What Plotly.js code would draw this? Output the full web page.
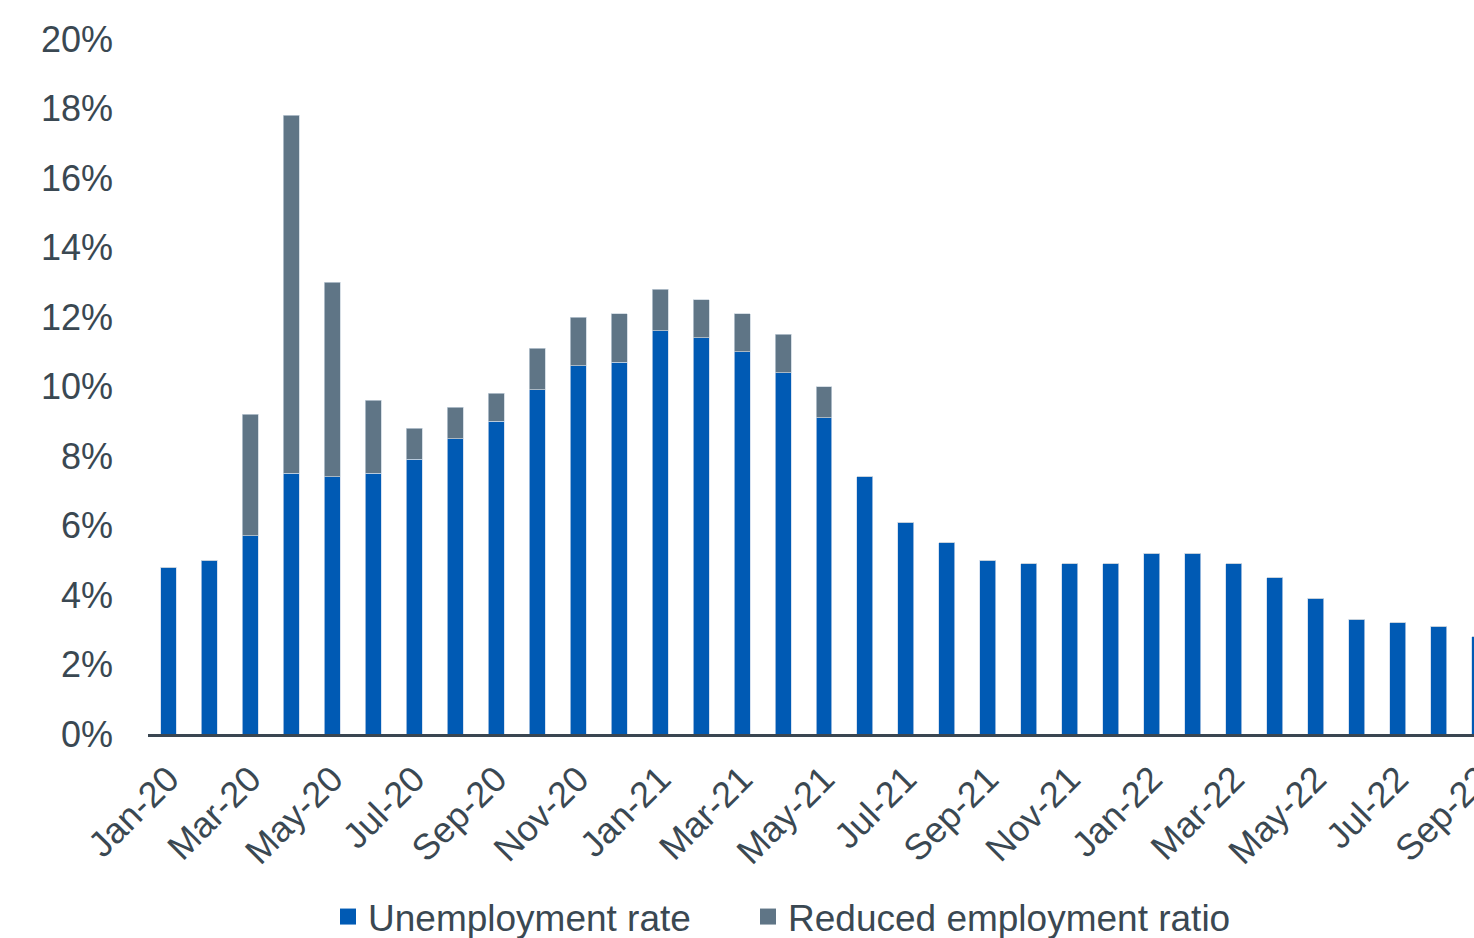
<!DOCTYPE html>
<html>
<head>
<meta charset="utf-8">
<script src="https://cdn.plot.ly/plotly-3.0.1.min.js"></script>
<style>
html,body{margin:0;padding:0;background:#fff;overflow:hidden;width:1474px;height:938px;}
#chart{width:1510px;height:938px;}
</style>
</head>
<body>
<div id="chart"></div>
<script>
const months = ["Jan-20","Feb-20","Mar-20","Apr-20","May-20","Jun-20","Jul-20","Aug-20","Sep-20","Oct-20","Nov-20","Dec-20",
  "Jan-21","Feb-21","Mar-21","Apr-21","May-21","Jun-21","Jul-21","Aug-21","Sep-21","Oct-21","Nov-21","Dec-21",
  "Jan-22","Feb-22","Mar-22","Apr-22","May-22","Jun-22","Jul-22","Aug-22","Sep-22"];
const unemploymentRate = [4.8,5.0,5.7,7.5,7.4,7.5,7.9,8.5,9.0,9.9,10.6,10.7,
  11.6,11.4,11.0,10.4,9.1,7.4,6.1,5.5,5.0,4.9,4.9,4.9,
  5.2,5.2,4.9,4.5,3.9,3.3,3.2,3.1,2.8];
const reducedEmploymentRatio = [0,0,3.5,10.3,5.6,2.1,0.9,0.9,0.8,1.2,1.4,1.4,
  1.2,1.1,1.1,1.1,0.9,0,0,0,0,0,0,0,
  0,0,0,0,0,0,0,0,0];
const seriesNames = ["Unemployment rate","Reduced employment ratio"];
const seriesColors = ["#005ab4","#5f7586"];
const tickLabels = months.filter((m,i)=>i%2===0);
const yTicks = [0,2,4,6,8,10,12,14,16,18,20];

const textColor = "#3a4852";
const fontFamily = "'Liberation Sans', Arial, sans-serif";

const traces = [
  {type:"bar", name:seriesNames[0], x:months, y:unemploymentRate, showlegend:false,
   marker:{color:seriesColors[0], line:{width:0.8, color:"rgba(200,215,235,0.9)"}}},
  {type:"bar", name:seriesNames[1], x:months, y:reducedEmploymentRatio, showlegend:false,
   marker:{color:seriesColors[1], line:{width:0.8, color:"rgba(200,210,220,0.9)"}}},
  // legend entries (square swatches)
  {type:"scatter", mode:"markers", name:seriesNames[0], x:[null], y:[null], showlegend:true, legend:"legend",
   marker:{symbol:"square", size:17, color:seriesColors[0]}},
  {type:"scatter", mode:"markers", name:seriesNames[1], x:[null], y:[null], showlegend:true, legend:"legend2",
   marker:{symbol:"square", size:17, color:seriesColors[1]}}
];

const legendBase = {orientation:"h", xref:"container", xanchor:"left",
  yref:"container", y:(938-917)/938, yanchor:"middle",
  font:{family:fontFamily, size:37, color:textColor}, itemgap:0,
  borderwidth:0, bgcolor:"rgba(0,0,0,0)"};

const layout = {
  width:1510, height:938,
  margin:{l:147.5, r:9.5, t:39, b:204, pad:0},
  barmode:"stack",
  bargap:0.61,
  paper_bgcolor:"#fff", plot_bgcolor:"#fff",
  font:{family:fontFamily, size:36, color:textColor},
  showlegend:true,
  legend:Object.assign({}, legendBase, {x:328/1510}),
  legend2:Object.assign({}, legendBase, {x:748/1510}),
  xaxis:{type:"category", categoryorder:"array", categoryarray:months,
    range:[-0.5, 32.5], tickmode:"array", tickvals:tickLabels, ticktext:tickLabels,
    tickangle:-45, showgrid:false, zeroline:false, showline:true, linecolor:"#3a4651", linewidth:2.5,
    ticks:"", ticklabelstandoff:7, automargin:false,
    tickfont:{family:fontFamily, size:36, color:textColor}, fixedrange:true},
  yaxis:{range:[0,20], tickmode:"array", tickvals:yTicks, ticktext:yTicks.map(v=>v+"%"),
    showgrid:false, zeroline:false, showline:false, ticks:"", ticklabelstandoff:34, automargin:false,
    tickfont:{family:fontFamily, size:36, color:textColor}, fixedrange:true}
};

Plotly.newPlot("chart", traces, layout, {displayModeBar:false, staticPlot:true});
</script>
</body>
</html>
